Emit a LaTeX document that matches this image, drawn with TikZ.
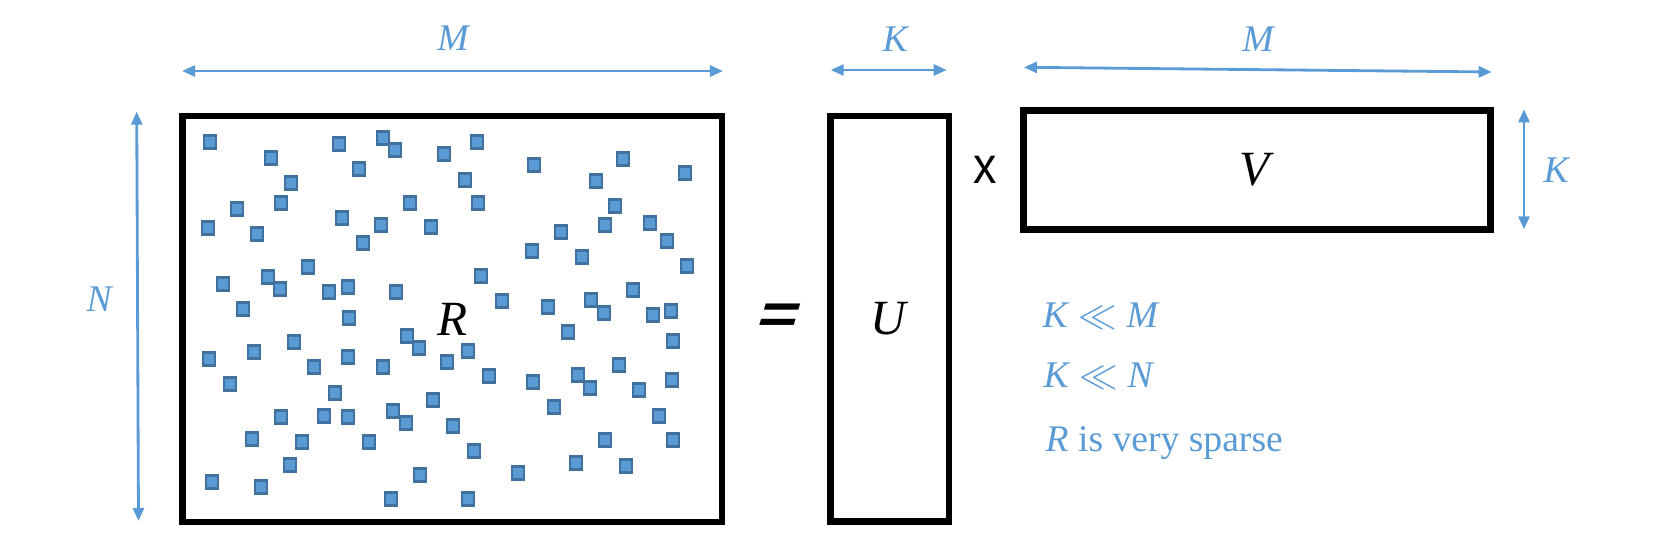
\documentclass[tikz,border=0pt]{standalone}
\usepackage{fontspec}
\setmainfont{Liberation Serif}
\setsansfont{Liberation Sans}
\usepackage{tikz}
\usetikzlibrary{arrows.meta, positioning, calc}

\begin{document}
\begin{tikzpicture}[x=0.01cm, y=-0.01cm,
  matriz/.style={draw, line width=1.9pt, inner sep=0pt, font=\fontsize{14}{16}\selectfont},
  cota/.style={draw=azul, line width=0.8pt, {Triangle[length=1.3mm,width=1.1mm]}-{Triangle[length=1.3mm,width=1.1mm]}},
  rotulo/.style={text=azul, inner sep=0pt, font=\fontsize{10.7}{13}\selectfont},
  ponto/.style={fill=azul, draw=azulborda, line width=0.7pt}]
% --- FATORACAO R = U x V, CORES HEX ---
\definecolor{azul}{HTML}{5B9BD5}
\definecolor{azulborda}{HTML}{41719C}
\useasboundingbox (0,0) rectangle (1659,534);

% LAYER 1: Matrizes
\node[matriz, minimum width=5.392cm, minimum height=4.06cm] (R) at (452.1,319) {\textit{R}};
\node[matriz, minimum width=1.187cm, minimum height=4.055cm] (U) at (889.6,318.8) {\textit{U}};
\node[matriz, minimum width=4.666cm, minimum height=1.192cm] (V) at (1257,170.1) {\textit{V}};

% LAYER 2: Operadores
\begin{scope}[shift={(779,319)}, xslant=0.3]
  \node[transform shape, font=\sffamily\bfseries\fontsize{17}{19}\selectfont] (igual) at (0,0) {\scalebox{1.15}[0.95]{=}};
\end{scope}
\node[font=\sffamily\fontsize{14}{16}\selectfont] (vezes) at (985,170) {\scalebox{0.95}[1.05]{x}};

% LAYER 3: Entradas esparsas de R
\foreach \px/\py in {210/142, 339/144, 383/138, 395/150, 444/154, 477/142, 271/158, 359/169,
    534/165, 623/159, 685/173, 291/183, 465/180, 596/181, 237/209, 281/203, 410/203, 478/203,
    615/206, 208/228, 257/234, 342/218, 381/225, 431/227, 363/243, 561/232, 605/225, 650/223,
    667/241, 532/251, 582/257, 687/266, 308/267, 223/284, 268/277, 280/289, 329/292, 348/287,
    396/292, 481/276, 243/309, 349/318, 502/301, 548/307, 591/300, 604/313, 633/290, 653/315,
    671/311, 568/332, 407/336, 419/348, 468/351, 294/342, 209/359, 254/352, 314/367, 348/357,
    383/367, 447/362, 489/376, 533/382, 578/375, 590/388, 619/365, 639/390, 672/380, 673/341,
    230/384, 335/393, 433/400, 554/407, 281/417, 324/416, 348/417, 393/411, 406/423, 453/426,
    659/416, 252/439, 302/442, 369/442, 474/451, 605/440, 673/440, 290/465, 212/482, 261/487,
    420/475, 518/473, 576/463, 626/466, 391/499, 468/499}
  \draw[ponto] (\px-6,\py-6.5) rectangle (\px+6,\py+6.5);

% LAYER 4: Cotas
\coordinate (mA) at (182,71);     \coordinate (mB) at (723,71);
\coordinate (nA) at (136.7,111.7); \coordinate (nB) at (138.5,521);
\coordinate (kA) at (830.7,70);   \coordinate (kB) at (946.7,70);
\coordinate (vA) at (1024,67.3);  \coordinate (vB) at (1491.7,72);
\coordinate (hA) at (1524,109.3); \coordinate (hB) at (1524,229.3);
\draw[cota] (mA) -- (mB);
\draw[cota] (nA) -- (nB);
\draw[cota] (kA) -- (kB);
\draw[cota] (vA) -- (vB);
\draw[cota] (hA) -- (hB);

\node[rotulo] (rotM) at (454,38) {\textit{M}};
\node[rotulo] (rotN) at (100,299) {\textit{N}};
\node[rotulo] (rotK) at (896,39) {\textit{K}};
\node[rotulo] (rotMv) at (1259,39) {\textit{M}};
\node[rotulo] (rotKv) at (1557,170) {\textit{K}};

% LAYER 5: Observacoes
\node[rotulo, anchor=base west] (obs1) at (1042,328) {\textit{K} $\ll$ \textit{M}};
\node[rotulo, anchor=base west] (obs2) at (1043,388) {\textit{K} $\ll$ \textit{N}};
\node[rotulo, anchor=base west] (obs3) at (1045,452) {\textit{R} is very sparse};
\end{tikzpicture}
\end{document}
